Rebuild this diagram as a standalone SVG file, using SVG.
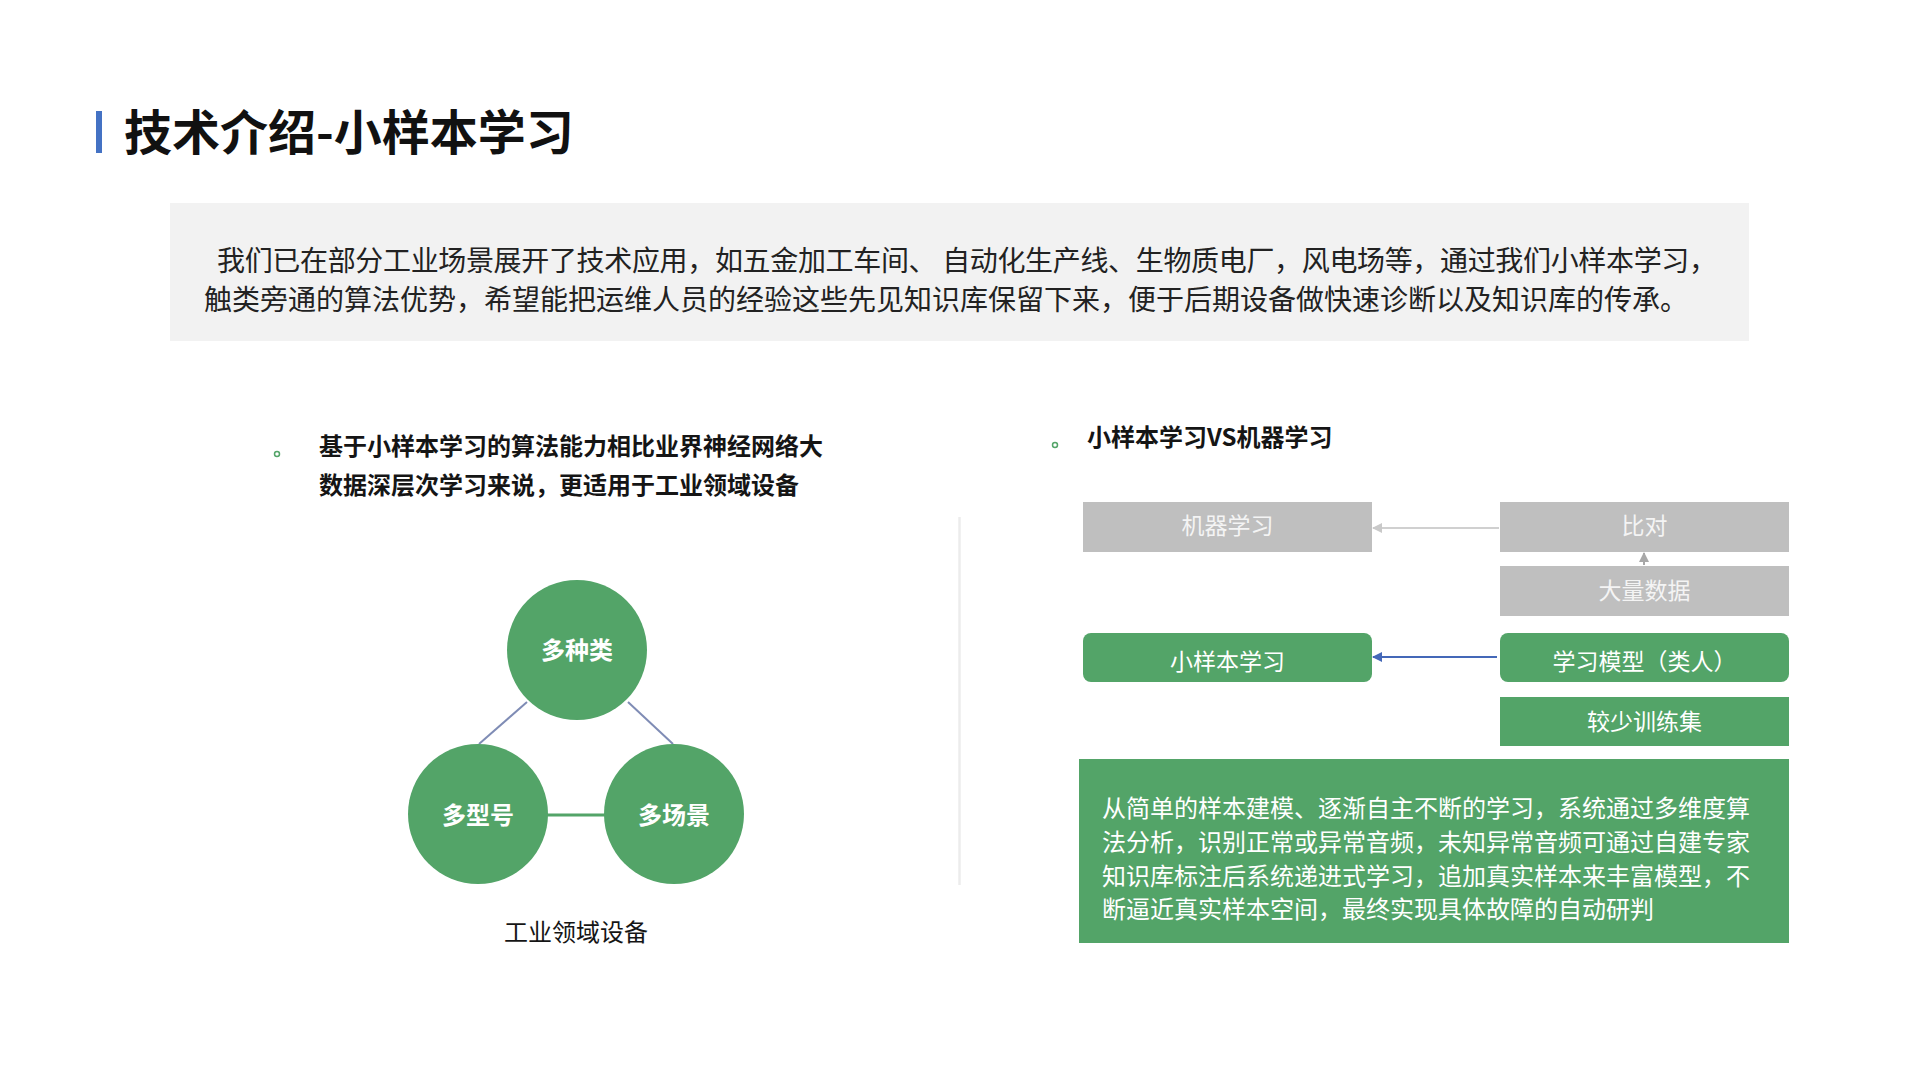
<svg xmlns="http://www.w3.org/2000/svg" width="1920" height="1079" viewBox="0 0 1920 1079">
<style>
text{font-family:"Noto Sans CJK SC","Microsoft YaHei",sans-serif;}
.title{font-size:48px;font-weight:bold;fill:#111;}
.para{font-size:28px;fill:#222;}
.bold24{font-size:24px;font-weight:bold;fill:#151515;}
.ctext{font-size:24px;font-weight:bold;fill:#fff;text-anchor:middle;}
.btext{font-size:23px;fill:#fff;text-anchor:middle;}
.gtext{font-size:23px;fill:#f4f4f4;text-anchor:middle;}
.body{font-size:24px;fill:#fff;}
.gray{fill:#bfbfbf;}
.green{fill:#53a468;}
</style>
<defs>
<marker id="ahGray" viewBox="0 0 10 10" refX="9" refY="5" markerWidth="6" markerHeight="5" orient="auto" markerUnits="strokeWidth">
<path d="M0,0 L10,5 L0,10 Z" fill="#c9c9c9"/>
</marker>
<marker id="ahGray2" viewBox="0 0 10 10" refX="9" refY="5" markerWidth="5" markerHeight="5" orient="auto" markerUnits="strokeWidth">
<path d="M0,0 L10,5 L0,10 Z" fill="#a8a8a8"/>
</marker>
<marker id="ahBlue" viewBox="0 0 10 10" refX="9" refY="5" markerWidth="5" markerHeight="5" orient="auto" markerUnits="strokeWidth">
<path d="M0,0 L10,5 L0,10 Z" fill="#4468b8"/>
</marker>
</defs>
<rect width="1920" height="1079" fill="#fff"/>

<g id="title">
<rect x="96" y="111" width="6" height="42" fill="#4472c4"/>
<text class="title" x="124" y="150">技术介绍-小样本学习</text>
</g>

<g id="intro">
<rect x="170" y="203" width="1579" height="138" fill="#f2f2f2"/>
<text class="para" x="217" y="271" textLength="1500" lengthAdjust="spacing">我们已在部分工业场景展开了技术应用，如五金加工车间、 自动化生产线、生物质电厂，风电场等，通过我们小样本学习，</text>
<text class="para" x="204" y="310">触类旁通的算法优势，希望能把运维人员的经验这些先见知识库保留下来，便于后期设备做快速诊断以及知识库的传承。</text>
</g>

<g id="left-heading">
<circle cx="277" cy="454" r="2.5" fill="none" stroke="#53a468" stroke-width="1.5"/>
<text class="bold24" x="319" y="455">基于小样本学习的算法能力相比业界神经网络大</text>
<text class="bold24" x="319" y="494">数据深层次学习来说，更适用于工业领域设备</text>
</g>

<g id="connectors">
<line x1="527" y1="702" x2="479" y2="744" stroke="#7f8cb5" stroke-width="2"/>
<line x1="628" y1="702" x2="673" y2="744" stroke="#7f8cb5" stroke-width="2"/>
<line x1="546" y1="815" x2="606" y2="815" stroke="#53a468" stroke-width="3"/>
<line x1="1499" y1="528" x2="1373" y2="528" stroke="#d0d0d0" stroke-width="2" marker-end="url(#ahGray)"/>
<line x1="1644" y1="565" x2="1644" y2="553" stroke="#a8a8a8" stroke-width="2" marker-end="url(#ahGray2)"/>
<line x1="1497" y1="657" x2="1373" y2="657" stroke="#4468b8" stroke-width="2" marker-end="url(#ahBlue)"/>
</g>

<g id="node-duozhonglei">
<circle cx="577" cy="650" r="70" class="green"/>
<text class="ctext" x="577" y="659">多种类</text>
</g>
<g id="node-duoxinghao">
<circle cx="478" cy="814" r="70" class="green"/>
<text class="ctext" x="478" y="824">多型号</text>
</g>
<g id="node-duochangjing">
<circle cx="674" cy="814" r="70" class="green"/>
<text class="ctext" x="674" y="824">多场景</text>
</g>
<g id="label-gongye">
<text x="576" y="941" font-size="24" fill="#151515" text-anchor="middle">工业领域设备</text>
</g>

<g id="divider">
<line x1="959.5" y1="517" x2="959.5" y2="885" stroke="#ececec" stroke-width="2.5"/>
</g>

<g id="right-heading">
<circle cx="1055" cy="445" r="2.5" fill="none" stroke="#53a468" stroke-width="1.5"/>
<text class="bold24" x="1087" y="446">小样本学习VS机器学习</text>
</g>

<g id="node-jiqixuexi">
<rect x="1083" y="502" width="289" height="50" class="gray"/>
<text class="gtext" x="1227.5" y="534">机器学习</text>
</g>
<g id="node-bidui">
<rect x="1500" y="502" width="289" height="50" class="gray"/>
<text class="gtext" x="1644.5" y="534">比对</text>
</g>
<g id="node-daliangshuju">
<rect x="1500" y="566" width="289" height="50" class="gray"/>
<text class="gtext" x="1644.5" y="599">大量数据</text>
</g>
<g id="node-xiaoyangben">
<rect x="1083" y="633" width="289" height="49" rx="8" class="green"/>
<text class="btext" x="1227.5" y="670">小样本学习</text>
</g>
<g id="node-xuexumoxing">
<rect x="1500" y="633" width="289" height="49" rx="8" class="green"/>
<text class="btext" x="1644.5" y="670">学习模型（类人）</text>
</g>
<g id="node-jiaoshao">
<rect x="1500" y="697" width="289" height="49" class="green"/>
<text class="btext" x="1644.5" y="730">较少训练集</text>
</g>
<g id="node-desc">
<rect x="1079" y="759" width="710" height="184" class="green"/>
<text class="body" x="1102" y="817">从简单的样本建模、逐渐自主不断的学习，系统通过多维度算</text>
<text class="body" x="1102" y="851">法分析，识别正常或异常音频，未知异常音频可通过自建专家</text>
<text class="body" x="1102" y="885">知识库标注后系统递进式学习，追加真实样本来丰富模型，不</text>
<text class="body" x="1102" y="918">断逼近真实样本空间，最终实现具体故障的自动研判</text>
</g>
</svg>
